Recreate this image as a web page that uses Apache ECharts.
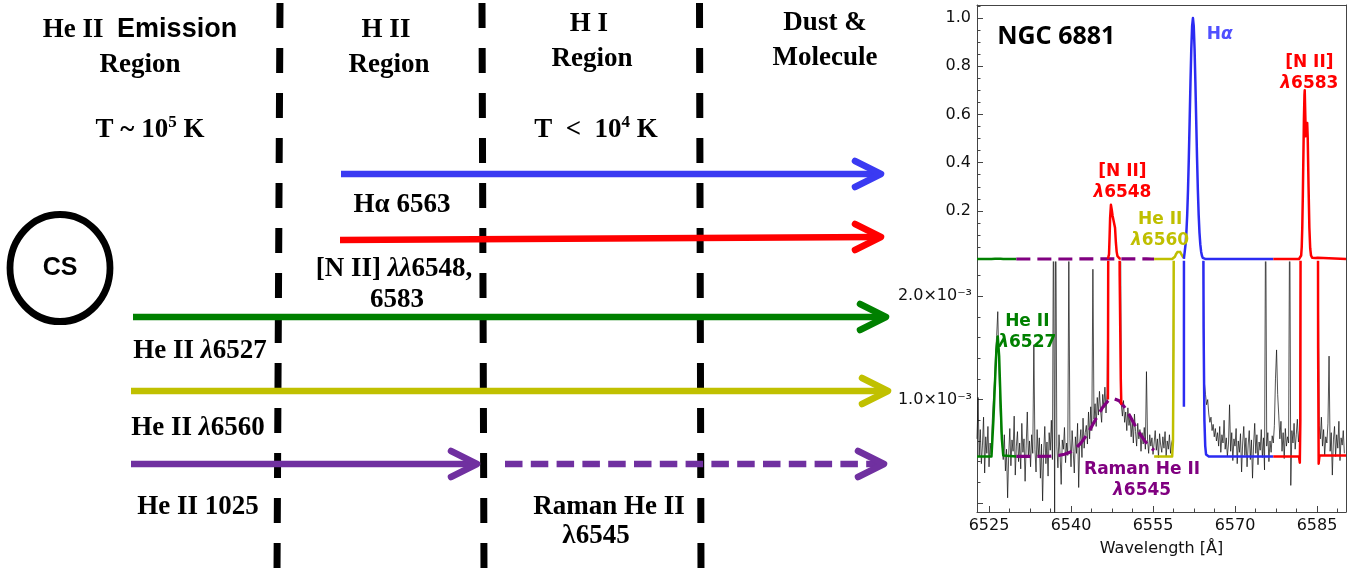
<!DOCTYPE html>
<html>
<head>
<meta charset="utf-8">
<script src="https://cdn.jsdelivr.net/npm/echarts@6/dist/echarts.min.js"></script>
<style>
  html, body { margin: 0; padding: 0; background: #fff; }
  #chart { width: 1357px; height: 575px; }
</style>
</head>
<body>
<div id="chart"></div>
<script>
// ---------------- NGC 6881 spectrum around H-alpha (flux normalised to the H-alpha peak) ----------------
const waveMin = 6522.8, waveMax = 6590.3;
const waveTicks = [6525, 6540, 6555, 6570, 6585];
const upperTicks = [0.2, 0.4, 0.6, 0.8, 1.0];
const lowerTicksE3 = [1, 2];          // lower panel is in units of 1e-3

// observed spectrum: one value every 0.2 A starting at 6522.8 A, units of 1e-3
const obsStart = 6522.8, obsStep = 0.2;
const obsFluxE3 = [
  0.62, 1.02, 0.45, 0.71, 0.38, 0.56, 0.83, 0.29, 0.64, 0.48,   // 6522.8
  0.74, 0.35, 0.58, 0.47, 0.80, 1.00, 1.18, 1.44, 1.62, 1.85,   // 6524.8
  1.35, 0.95, 0.70, 0.58, 0.42, 0.66, 0.31, 0.52, 0.05, 0.47,   // 6526.8
  0.72, 0.36, 0.61, 0.50, 0.84, 0.27, 0.55, 0.69, 0.40, 0.58,   // 6528.8
  0.33, 0.77, 0.49, 0.62, 0.21, 0.56, 0.88, 0.44, 0.60, 0.35,   // 6530.8
  0.66, 0.48, 1.53, 0.52, 0.30, 0.71, 0.45, 0.63, 0.24, 0.57,   // 6532.8
  0.02, 0.49, 0.74, 0.38, 0.59, 0.26, 0.68, 0.51, 0.80, 0.42,   // 6534.8
  3.0, -0.2, 3.0, 0.55, 0.34, 0.66, 0.47, 0.18, 0.61, 0.52,     // 6536.8
  0.73, 0.39, 0.58, 0.46, 2.4, 0.62, 0.35, 0.70, 0.50, 0.29,    // 6538.8
  0.64, 0.48, 0.77, 0.15, 0.59, 0.71, 0.44, 0.82, 0.53, 0.68,   // 6540.8
  0.75, 0.57, 0.88, 0.62, 0.93, 0.70, 2.26, 0.81, 0.96, 0.74,   // 6542.8
  1.02, 0.85, 1.08, 0.90, 0.78, 1.05, 0.92, 1.12, 0.87, 1.06,   // 6544.8
  2.5, 9, 70, 190, 225, 205, 182, 185, 150, 72,                 // 6546.8
  16, 3.5, 0.95, 0.84, 0.99, 0.78, 0.88, 0.70, 0.92, 0.75,      // 6548.8
  0.83, 0.64, 0.79, 0.58, 0.86, 0.69, 0.55, 0.77, 0.62, 0.71,   // 6550.8
  0.50, 0.68, 0.57, 0.73, 0.52, 1.27, 0.61, 0.48, 0.66, 0.55,   // 6552.8
  0.63, 0.47, 0.58, 0.70, 0.51, 0.62, 0.44, 0.67, 0.56, 0.49,   // 6554.8
  0.64, 0.53, 0.69, 0.45, 0.60, 0.52, 0.66, 0.48, 0.58, 0.62,   // 6556.8
  2.6, 12, 24, 31, 29, 22, 18, 14, 12, 16,                      // 6558.8
  30, 60, 130, 250, 420, 620, 820, 960, 990, 880,               // 6560.8
  690, 470, 280, 140, 60, 20, 6, 2.2, 1.16, 1.05,               // 6562.8
  0.95, 1.00, 0.86, 0.78, 0.83, 0.70, 0.76, 0.64, 0.72, 0.60,   // 6564.8
  0.68, 0.55, 0.74, 0.49, 0.66, 0.58, 0.80, 0.52, 0.63, 0.45,   // 6566.8
  0.57, 0.95, 0.50, 0.68, 0.41, 0.62, 0.55, 0.72, 0.38, 0.60,   // 6568.8
  0.49, 0.67, 0.30, 0.58, 0.74, 0.46, 0.63, 0.35, 0.56, 0.70,   // 6570.8
  0.42, 0.61, 0.24, 0.57, 0.77, 0.48, 0.66, 0.37, 0.59, 0.51,   // 6572.8
  0.71, 0.44, 0.63, 0.32, 3.0, 0.55, 0.68, 0.40, 0.60, 0.49,    // 6574.8
  0.65, 0.58, 0.75, 1.20, 1.48, 1.05, 0.85, 0.62, 0.79, 0.50,   // 6576.8
  0.68, 0.43, 0.72, 0.55, 0.64, 0.58, 3.0, 0.17, 0.70, 0.58,    // 6578.8
  0.77, 0.52, 0.66, 0.81, 0.59, 0.70, 2.4, 25, 180, 520,        // 6580.8
  690, 560, 520, 560, 380, 140, 40, 10, 5, 7,                   // 6582.8
  12, 6, 2.5, 0.75, 0.62, 0.83, 0.55, 0.71, 0.46, 0.64,         // 6584.8
  0.58, 0.77, 1.42, 0.50, 0.68, 0.27, 0.61, 0.74, 0.45, 0.66,   // 6586.8
  0.53, 0.79, 0.41, 0.63, 0.56, 0.70, 0.48                      // 6588.8
];

// fitted line profiles: [wavelength (A), normalised flux]
const heII6527 = [
  [6522.8, 0.00045], [6525.45, 0.00045], [6525.8, 0.00080], [6526.1, 0.00118],
  [6526.35, 0.00148], [6526.6, 0.00161], [6526.85, 0.00142], [6527.1, 0.00100],
  [6527.35, 0.00062], [6527.6, 0.00046], [6530.0, 0.00045]
];
const ramanHeII6545 = [
  [6530.0, 0.00045], [6536.0, 0.000452], [6537.8, 0.00046], [6538.8, 0.000471],
  [6539.8, 0.000491], [6540.8, 0.000526], [6541.8, 0.000579], [6542.8, 0.000652],
  [6543.8, 0.000741], [6544.8, 0.000838], [6545.8, 0.000926], [6546.8, 0.000988],
  [6547.8, 0.00101], [6548.8, 0.000988], [6549.8, 0.000926], [6550.8, 0.000838],
  [6551.8, 0.000741], [6552.8, 0.000652], [6553.8, 0.000579], [6554.8, 0.000526],
  [6555.2, 0.00051]
];
const nII6548 = [
  [6546.75, 0.00100], [6546.85, 0.0035], [6546.95, 0.02], [6547.05, 0.09],
  [6547.15, 0.17], [6547.3, 0.225], [6547.45, 0.205], [6547.6, 0.18],
  [6547.75, 0.188], [6547.9, 0.178], [6548.05, 0.13], [6548.2, 0.07],
  [6548.35, 0.03], [6548.5, 0.012], [6548.7, 0.005], [6548.9, 0.0022],
  [6549.1, 0.0012], [6549.2, 0.00095]
];
const heII6560 = [
  [6555.2, 0.00045], [6558.5, 0.00045], [6558.65, 0.0006], [6558.75, 0.0015],
  [6558.85, 0.004], [6559.0, 0.01], [6559.2, 0.02], [6559.45, 0.029],
  [6559.7, 0.033], [6559.95, 0.030], [6560.2, 0.020], [6560.45, 0.010],
  [6560.65, 0.006]
];
const hAlpha = [
  [6560.65, 0.00093], [6560.7, 0.012], [6560.8, 0.031], [6560.95, 0.061],
  [6561.1, 0.109], [6561.25, 0.183], [6561.4, 0.288], [6561.55, 0.421],
  [6561.7, 0.575], [6561.85, 0.732], [6562.0, 0.871], [6562.15, 0.966],
  [6562.3, 1.0], [6562.45, 0.966], [6562.6, 0.871], [6562.75, 0.732],
  [6562.9, 0.575], [6563.05, 0.421], [6563.2, 0.288], [6563.35, 0.183],
  [6563.5, 0.109], [6563.65, 0.061], [6563.8, 0.031], [6563.95, 0.014],
  [6564.1, 0.005], [6564.25, 0.0017], [6564.4, 0.0008], [6564.55, 0.00055],
  [6564.7, 0.00047], [6565.2, 0.00045], [6577.0, 0.00045]
];
const nII6583 = [
  [6577.0, 0.00045], [6581.7, 0.00045], [6581.85, 0.00039], [6581.95, 0.0008],
  [6582.0, 0.003], [6582.1, 0.015], [6582.2, 0.05], [6582.3, 0.13],
  [6582.4, 0.26], [6582.5, 0.42], [6582.6, 0.58], [6582.7, 0.68],
  [6582.75, 0.70], [6582.85, 0.60], [6582.95, 0.51], [6583.05, 0.53],
  [6583.2, 0.565], [6583.3, 0.50], [6583.45, 0.30], [6583.6, 0.13],
  [6583.75, 0.045], [6583.9, 0.015], [6584.1, 0.006], [6584.4, 0.004],
  [6584.7, 0.005], [6584.95, 0.012], [6585.1, 0.006], [6585.2, 0.0015],
  [6585.3, 0.00038], [6585.45, 0.00046], [6590.3, 0.00046]
];

// ---------------- ionisation-structure sketch (schematic distance from the central star) ----------------
const sketchTop = 3, sketchBottom = 575;
const zoneEdges = [[280, 277], [482, 484], [699.5, 701]];   // boundary at top / bottom
const arrowColors = ['#3a3af2', '#ff0000', '#008000', '#c0c000', '#7030a0'];
// [from, yFrom, to, yTo, colour, dashed]
const arrows = [
  [341, 174, 881, 174, 0, 0],
  [340, 240, 881, 237, 1, 0],
  [133, 317, 886, 317, 2, 0],
  [131, 391, 888, 391, 3, 0],
  [131, 464, 477, 464, 4, 0],
  [505, 464, 884, 464, 4, 1]
];
const centralStar = [60, 268];
const sketchLabels = [
  ['{s|He II  }{ss|Emission}', 140, 30],
  ['{s|Region}', 140, 65],
  ['{s|T ~ 10}{sup|5}{s| K}', 150, 130],
  ['{s|H II}', 386, 30],
  ['{s|Region}', 389, 65],
  ['{s|H I}', 589, 24],
  ['{s|Region}', 592, 59],
  ['{s|T  <  10}{sup|4}{s| K}', 596, 130],
  ['{s|Dust &}', 825, 23],
  ['{s|Molecule}', 825, 58],
  ['{s|H\u03b1 6563}', 402, 205],
  ['{s|[N II] }{it|\u03bb\u03bb}{s|6548,}', 394, 269],
  ['{s|6583}', 397, 300],
  ['{s|He II }{it|\u03bb}{s|6527}', 200, 351],
  ['{s|He II }{it|\u03bb}{s|6560}', 198, 428],
  ['{s|He II 1025}', 198, 507],
  ['{s|Raman He II}', 609, 507],
  ['{s|\u03bb6545}', 596, 536]
];

const specLabelsUpper = [
  ['{t|NGC 6881}', 6537.3, 0.92],
  ['{b|H}{bi|\u03b1}', 6567.2, 0.93],
  ['{r|[N II]}\n{ri|\u03bb}{r|6583}', 6583.6, 0.772],
  ['{r|[N II]}\n{ri|\u03bb}{r|6548}', 6549.4, 0.318],
  ['{y|He II}\n{yi|\u03bb}{y|6560}', 6556.3, 0.121]
];
const specLabelsLower = [
  ['{g|He II}\n{gi|\u03bb}{g|6527}', 6532.0, 1.655],
  ['{p|Raman He II}\n{pi|\u03bb}{p|6545}', 6553.0, 0.218]
];

// ---------------- styles ----------------
const serif = 'Liberation Serif', sans = 'Liberation Sans', plotFont = 'DejaVu Sans';
const frameColor = '#444';
const sketchRich = {
  s:   { fontFamily: serif, fontWeight: 'bold', fontSize: 27, color: '#000', lineHeight: 32 },
  ss:  { fontFamily: sans,  fontWeight: 'bold', fontSize: 27, color: '#000', lineHeight: 32 },
  it:  { fontFamily: serif, fontWeight: 'bold', fontStyle: 'italic', fontSize: 27, color: '#000', lineHeight: 32 },
  sup: { fontFamily: serif, fontWeight: 'bold', fontSize: 17, color: '#000', lineHeight: 32, verticalAlign: 'top' }
};
const specColors = { r: '#ff0000', y: '#bfbf00', g: '#008000', p: '#800080', b: '#5050ff' };
const specRich = { t: { fontFamily: 'Noto Sans', fontWeight: 'bold', fontSize: 25, color: '#000' } };
Object.keys(specColors).forEach(k => {
  specRich[k] = { fontFamily: plotFont, fontWeight: 'bold', fontSize: 17, color: specColors[k], lineHeight: 21 };
  specRich[k + 'i'] = { fontFamily: plotFont, fontWeight: 'bold', fontStyle: 'italic', fontSize: 17, color: specColors[k], lineHeight: 21 };
});

// ---------------- derived series data ----------------
const obsSeries = obsFluxE3.map((v, i) => [+(obsStart + i * obsStep).toFixed(2), v]);
const toE3 = prof => prof.map(p => [p[0], p[1] * 1000]);   // lower panel uses 1e-3 units

const stepList = (a, b, s) => { const out = []; for (let k = 0; a + k * s <= b + 1e-9; k++) out.push(+(a + k * s).toFixed(4)); return out; };
const upperMinor = stepList(0, 1.05, 0.05);
const lowerMinor = stepList(0, 2.2, 0.2);
const waveMinor = stepList(6525, 6590, 3.75);

const axisLabelStyle = { fontFamily: plotFont, fontSize: 16, color: '#111' };
const noSplit = { show: false };

const profiles = [
  { data: heII6527, color: '#008000' },
  { data: ramanHeII6545, color: '#800080', dashed: true },
  { data: heII6560, color: '#bfbf00' },
  { data: hAlpha, color: '#2b2bf2' },
  { data: nII6548, color: '#ff0000' },
  { data: nII6583, color: '#ff0000' }
];

function profileSeries(xIdx, yIdx, e3) {
  return profiles.map(p => ({
    type: 'line', xAxisIndex: xIdx, yAxisIndex: yIdx,
    data: e3 ? toE3(p.data) : p.data,
    symbol: 'none', silent: true, clip: true, z: 3,
    lineStyle: { color: p.color, width: p.dashed ? 3.2 : 2.5, type: p.dashed ? [14, 7] : 'solid', cap: 'butt', join: 'round' }
  }));
}

function labelSeries(xIdx, yIdx, items, rich) {
  return {
    type: 'scatter', xAxisIndex: xIdx, yAxisIndex: yIdx, silent: true, z: 5,
    symbolSize: 1, itemStyle: { color: 'rgba(0,0,0,0)', opacity: 1 },
    data: items.map(d => ({ name: d[0], value: [d[1], d[2]] })),
    label: { show: true, position: 'inside', align: 'center', verticalAlign: 'middle', formatter: p => p.name, rich: rich }
  };
}

const option = {
  animation: false,
  backgroundColor: '#fff',
  grid: [
    { left: 0, top: 0, width: 900, height: 575 },
    { left: 977, top: 5, width: 369, height: 257 },
    { left: 977, top: 262, width: 369, height: 250 }
  ],
  xAxis: [
    { gridIndex: 0, type: 'value', min: 0, max: 900, show: false },
    { gridIndex: 1, type: 'value', min: waveMin, max: waveMax, position: 'top',
      axisLine: { show: true, onZero: false, lineStyle: { color: frameColor, width: 1 } },
      axisTick: { show: false }, axisLabel: { show: false }, splitLine: noSplit },
    { gridIndex: 2, type: 'value', min: waveMin, max: waveMax, position: 'bottom',
      axisLine: { show: true, onZero: false, lineStyle: { color: frameColor, width: 1 } },
      axisTick: { show: true, inside: true, length: 6, customValues: waveTicks, lineStyle: { color: frameColor } },
      axisLabel: Object.assign({ show: true, margin: 6, customValues: waveTicks, formatter: v => String(v) }, axisLabelStyle),
      splitLine: noSplit,
      name: 'Wavelength [\u00c5]', nameLocation: 'middle', nameGap: 29,
      nameTextStyle: { fontFamily: plotFont, fontSize: 16, color: '#111' } },
    { gridIndex: 2, type: 'value', min: waveMin, max: waveMax, position: 'bottom',
      axisLine: { show: false, onZero: false },
      axisTick: { show: true, inside: true, length: 3.5, customValues: waveMinor, lineStyle: { color: frameColor } },
      axisLabel: { show: false }, splitLine: noSplit }
  ],
  yAxis: [
    { gridIndex: 0, type: 'value', min: 0, max: 575, inverse: true, show: false },
    { gridIndex: 1, type: 'value', min: -0.012, max: 1.054, position: 'left',
      axisLine: { show: true, onZero: false, lineStyle: { color: frameColor, width: 1 } },
      axisTick: { show: true, inside: true, length: 6, customValues: [0].concat(upperTicks), lineStyle: { color: frameColor } },
      axisLabel: Object.assign({ show: true, margin: 6, customValues: upperTicks, formatter: v => v.toFixed(1) }, axisLabelStyle),
      splitLine: noSplit },
    { gridIndex: 1, type: 'value', min: -0.012, max: 1.054, position: 'left', offset: 0,
      axisLine: { show: false, onZero: false },
      axisTick: { show: true, inside: true, length: 3.5, customValues: upperMinor, lineStyle: { color: frameColor } },
      axisLabel: { show: false }, splitLine: noSplit },
    { gridIndex: 1, type: 'value', min: -0.012, max: 1.054, position: 'right',
      axisLine: { show: true, onZero: false, lineStyle: { color: frameColor, width: 1 } },
      axisTick: { show: false }, axisLabel: { show: false }, splitLine: noSplit },
    { gridIndex: 2, type: 'value', min: -0.087, max: 2.33, position: 'left',
      axisLine: { show: true, onZero: false, lineStyle: { color: frameColor, width: 1 } },
      axisTick: { show: true, inside: true, length: 6, customValues: [0].concat(lowerTicksE3), lineStyle: { color: frameColor } },
      axisLabel: Object.assign({ show: true, margin: 5, customValues: lowerTicksE3, formatter: v => v.toFixed(1) + '\u00d710\u207b\u00b3' }, axisLabelStyle),
      splitLine: noSplit },
    { gridIndex: 2, type: 'value', min: -0.087, max: 2.33, position: 'left', offset: 0,
      axisLine: { show: false, onZero: false },
      axisTick: { show: true, inside: true, length: 3.5, customValues: lowerMinor, lineStyle: { color: frameColor } },
      axisLabel: { show: false }, splitLine: noSplit },
    { gridIndex: 2, type: 'value', min: -0.087, max: 2.33, position: 'right',
      axisLine: { show: true, onZero: false, lineStyle: { color: frameColor, width: 1 } },
      axisTick: { show: false }, axisLabel: { show: false }, splitLine: noSplit }
  ],
  series: [
    // region boundaries
    ...zoneEdges.map(e => ({
      type: 'line', xAxisIndex: 0, yAxisIndex: 0, silent: true, symbol: 'none', z: 2,
      data: [[e[0], sketchTop], [e[1], sketchBottom]],
      lineStyle: { color: '#000', width: 7, type: [25, 20], cap: 'butt' }
    })),
    // emission-line arrows
    {
      type: 'custom', xAxisIndex: 0, yAxisIndex: 0, silent: true, z: 3,
      dimensions: ['x0', 'y0', 'x1', 'y1', 'c', 'd'],
      encode: { x: ['x0', 'x1'], y: ['y0', 'y1'] },
      data: arrows,
      renderItem: (params, api) => {
        const p0 = api.coord([api.value(0), api.value(1)]);
        const p1 = api.coord([api.value(2), api.value(3)]);
        const color = arrowColors[api.value(4)];
        const dashed = api.value(5) === 1;
        return {
          type: 'group',
          children: [
            { type: 'line', shape: { x1: p0[0], y1: p0[1], x2: p1[0] - 3, y2: p1[1] },
              style: { stroke: color, lineWidth: 6.5, lineCap: 'butt', lineDash: dashed ? [17.5, 8.3] : null } },
            { type: 'polyline', shape: { points: [[p1[0] - 26, p1[1] - 13], [p1[0], p1[1]], [p1[0] - 26, p1[1] + 13]] },
              style: { stroke: color, fill: null, lineWidth: 6.5, lineCap: 'round', lineJoin: 'round' } }
          ]
        };
      }
    },
    // central star
    {
      type: 'scatter', xAxisIndex: 0, yAxisIndex: 0, silent: true, z: 4,
      data: [centralStar], symbol: 'circle', symbolSize: [100, 107],
      itemStyle: { color: 'rgba(0,0,0,0)', borderColor: '#000', borderWidth: 7, opacity: 1 },
      label: { show: true, position: 'inside', formatter: 'CS', fontFamily: sans, fontWeight: 'bold', fontSize: 25, color: '#000' }
    },
    labelSeries(0, 0, sketchLabels, sketchRich),

    // observed spectrum (lower panel)
    {
      type: 'line', xAxisIndex: 2, yAxisIndex: 4, data: obsSeries, symbol: 'none', silent: true, clip: true, z: 2,
      lineStyle: { color: '#111', width: 0.8, opacity: 0.9 }
    },
    ...profileSeries(1, 1, false),
    ...profileSeries(2, 4, true),
    labelSeries(1, 1, specLabelsUpper, specRich),
    labelSeries(2, 4, specLabelsLower, specRich)
  ]
};

const chart = echarts.init(document.getElementById('chart'), null, { renderer: 'canvas' });
chart.setOption(option);
</script>
</body>
</html>
